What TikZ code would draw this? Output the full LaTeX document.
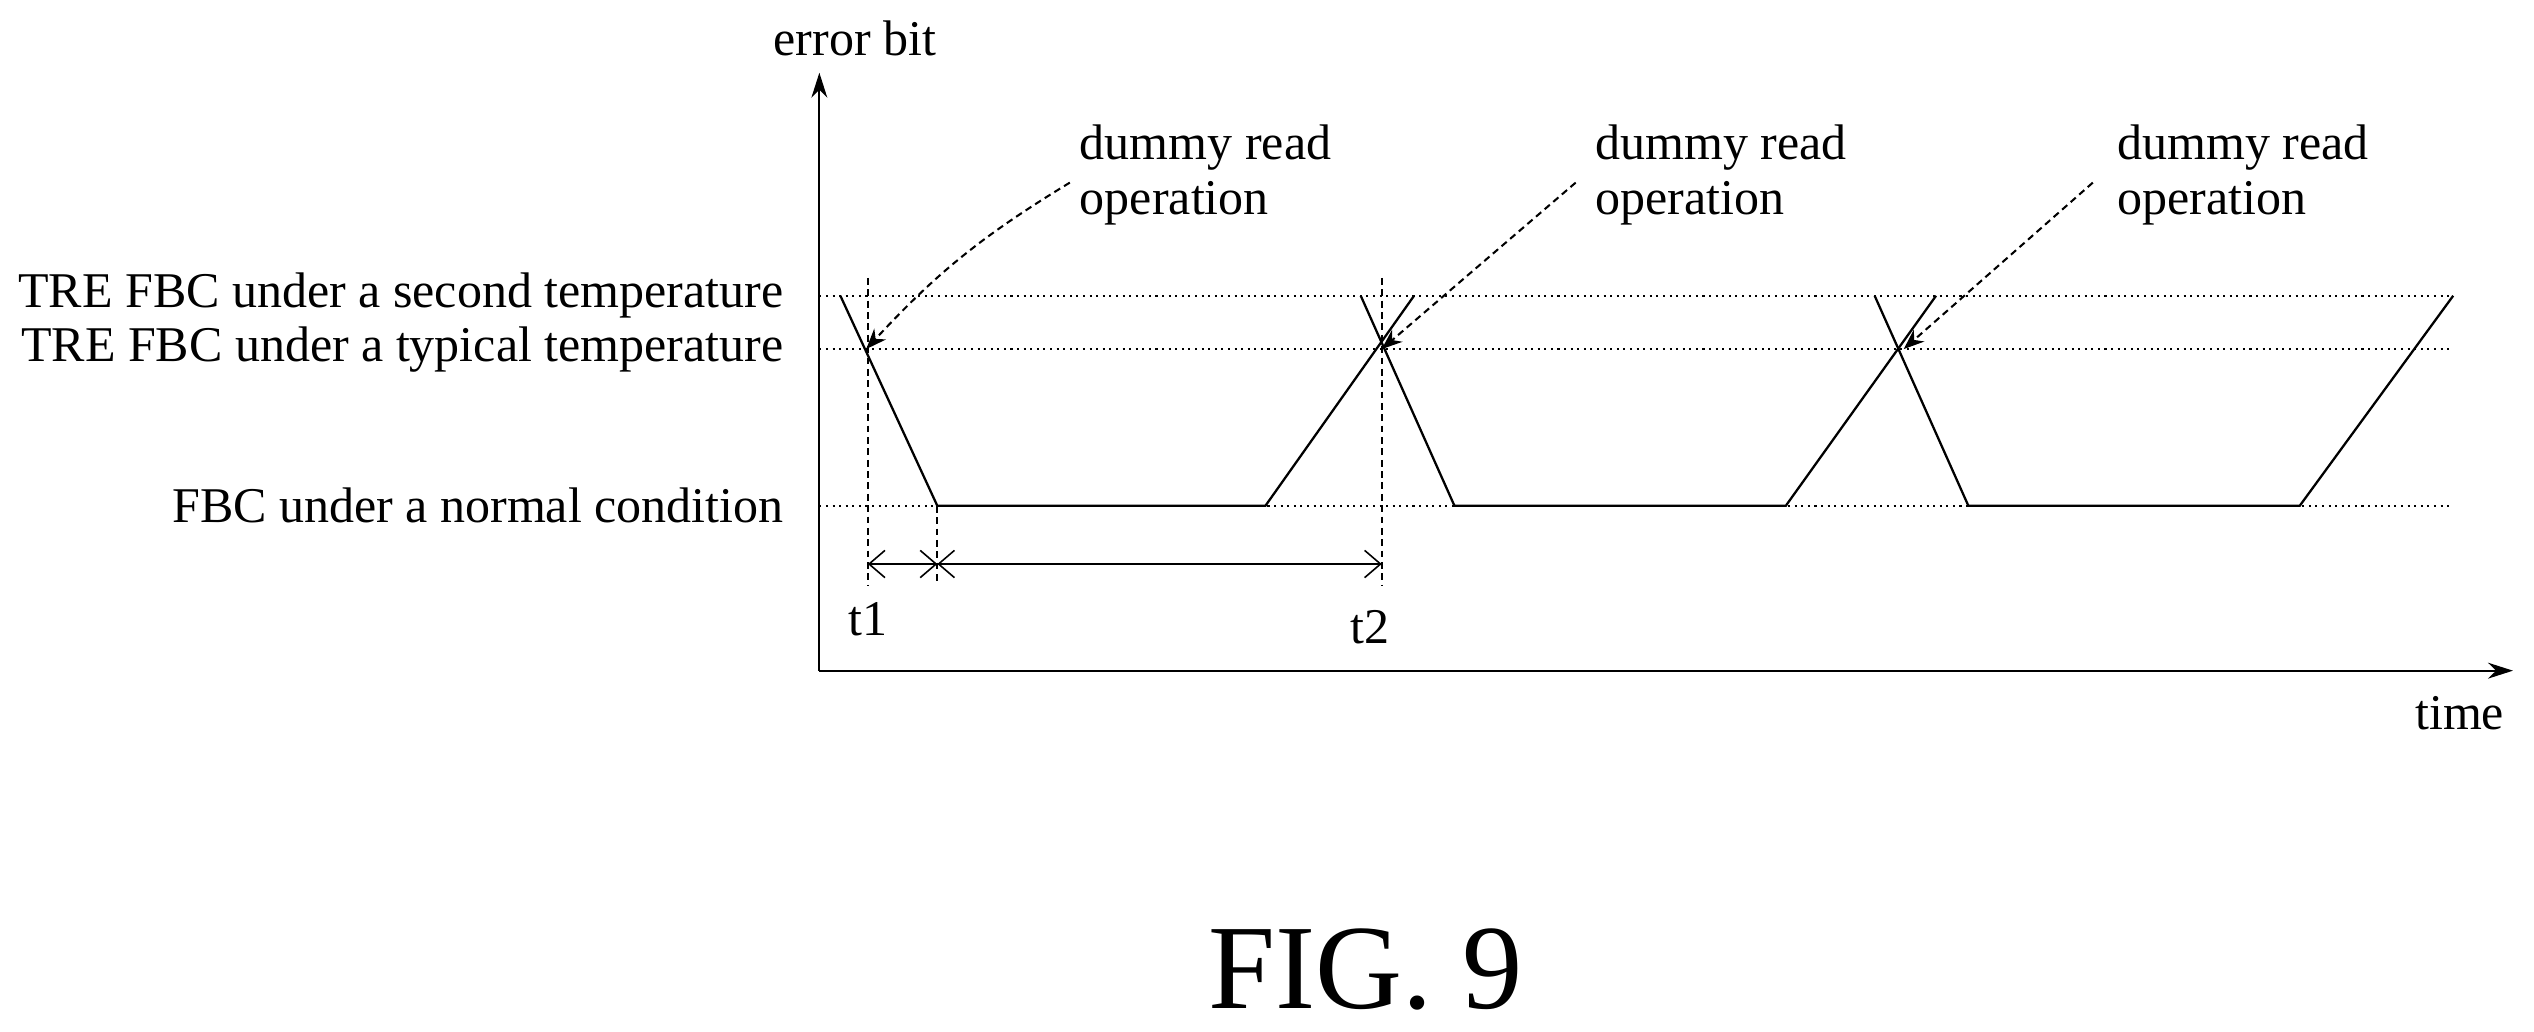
\documentclass[tikz,border=0pt]{standalone}
\usepackage{fontspec}
\setmainfont{Liberation Serif}
\usetikzlibrary{arrows.meta,positioning}

\begin{document}
\begin{tikzpicture}[
  x=0.025cm, y=-0.025cm,
  lbl/.style={font=\fontsize{22}{26}\selectfont, inner sep=0pt},
  guide/.style={dotted, line width=0.9pt},
  wave/.style={line width=1pt},
  leader/.style={densely dashed, line width=0.9pt, -{Stealth[length=9pt,width=7pt]}},
  span/.style={line width=0.7pt, {Straight Barb[length=7pt,width=12pt]}-{Straight Barb[length=7pt,width=12pt]}}]
\useasboundingbox (0,0) rectangle (1568,638);

% axes
\draw[line width=1pt, -{Stealth[length=11pt,width=7pt]}] (507,415) -- (507,45);
\draw[line width=1pt, -{Stealth[length=11pt,width=7pt]}] (507,415) -- (1555,415);
\node[lbl] (ylab) at (529,24) {error bit};
\node[lbl] (xlab) at (1522,441) {time};

% levels
\node[lbl, anchor=east] (second) at (485,183) {TRE FBC under a second temperature};
\node[lbl, anchor=east] (typical) at (485,216) {TRE FBC under a typical temperature};
\node[lbl, anchor=east] (normal) at (485,313) {FBC under a normal condition};
\foreach \y in {183,216,313}
  \draw[guide] (507,\y) -- (1518,\y);

% error bit curve
\draw[wave] (520,183) -- (580,313) -- (783,313) -- (875,183);
\draw[wave] (842,183) -- (900,313) -- (1105,313) -- (1198,183);
\draw[wave] (1160,183) -- (1218,313) -- (1423,313) -- (1518,183);
\coordinate (x1) at (536,216);
\coordinate (x2) at (855,216);
\coordinate (x3) at (1178,216);

% t1 / t2 markers
\draw[densely dashed, line width=0.8pt] (537,172) -- (537,362);
\draw[densely dashed, line width=0.8pt] (855,172) -- (855,362);
\draw[densely dashed, line width=0.8pt] (580,313) -- (580,362);
\coordinate (m1) at (537,349);
\coordinate (m0) at (580,349);
\coordinate (m2) at (855,349);
\draw[span] (m1) -- (m0);
\draw[span] (m0) -- (m2);
\node[lbl] (t1) at (537,383) {t1};
\node[lbl] (t2) at (848,388) {t2};

% dummy read operations
\node[lbl, anchor=north west, align=left] (d1) at (668,77) {dummy read\\[-2pt]operation};
\node[lbl, anchor=north west, align=left] (d2) at (987,77) {dummy read\\[-2pt]operation};
\node[lbl, anchor=north west, align=left] (d3) at (1310,77) {dummy read\\[-2pt]operation};
\draw[leader] (662,113) to[bend right=8] (x1);
\draw[leader] (975,113) -- (x2);
\draw[leader] (1295,113) -- (x3);

\node[font=\fontsize{53}{60}\selectfont, inner sep=0pt] (fig) at (845,600) {FIG. 9};
\end{tikzpicture}
\end{document}
